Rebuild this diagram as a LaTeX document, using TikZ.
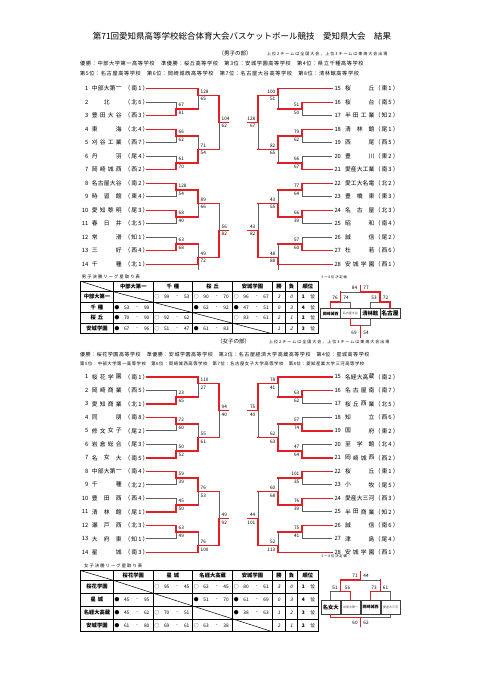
\documentclass[tikz,border=0pt]{standalone}
\usepackage{fontspec}
\setmainfont{Noto Sans CJK JP}
\newfontfamily\jpsl[FakeSlant=0.2]{Noto Sans CJK JP}
\newfontfamily\jpls[LetterSpace=25]{Noto Sans CJK JP}
\newfontfamily\jplsb[LetterSpace=18]{Noto Sans CJK JP}
\newfontfamily\jplsc[LetterSpace=11]{Noto Sans CJK JP}
\newfontfamily\jplsd[LetterSpace=12]{Noto Sans CJK JP}
\definecolor{bred}{RGB}{228,30,38}
\definecolor{bgray}{RGB}{95,95,95}
\pgfdeclarelayer{front}
\pgfsetlayers{main,front}
\tikzset{
 rl/.style={draw=bred,line width=1.4pt,line cap=rect},
 gl/.style={draw=bgray,line width=0.65pt},
 tn/.style={inner sep=0pt,font=\fontsize{5.8}{6}\selectfont},
 tp/.style={inner sep=0pt,anchor=west,font=\jplsb\fontsize{5.8}{6}\selectfont},
 sc/.style={inner sep=0pt,font=\fontsize{4.7}{5}\selectfont},
 cs/.style={inner sep=0pt,font=\fontsize{4.8}{5}\selectfont},
 csl/.style={inner sep=0pt,font=\jpsl\fontsize{4.8}{5}\selectfont},
 th/.style={inner sep=0pt,font=\bfseries\fontsize{5.3}{6}\selectfont},
 tin/.style={draw=black,line width=0.5pt},
 tout/.style={draw=black,line width=1pt},
 bx/.style={draw=black!75,line width=0.5pt,fill=white,inner sep=0pt,minimum width=19.8pt},
 hd/.style={inner sep=0pt,anchor=west},
}
\newcommand\bkSpread[4]{%
  \foreach \bkc [count=\bkk] in {#4} {\xdef\bkn{\bkk}}%
  \foreach \bkc [count=\bkk] in {#4} {%
    \ifnum\bkn=1 \pgfmathsetmacro\bkx{(#1+#2)/2}\else\pgfmathsetmacro\bkx{#1+(\bkk-1)*(#2-#1)/(\bkn-1)}\fi
    \node[tn] at (\bkx,#3) {\bkc};}}
\newcommand\bkTeamL[6]{%
  \node[tn,anchor=east] at (88.6,#2) {#1};
  \bkSpread{94.7}{118.7}{#2}{#3}
  \node[tp] at (124.4,#2) {#4};
  \ifnum#5=1 \begin{pgfonlayer}{front}\draw[rl] (146.3,#2) -- (#6,#2);\end{pgfonlayer}\else\draw[gl] (146.3,#2) -- (#6,#2);\fi}
\newcommand\bkTeamR[6]{%
  \node[tn,anchor=west] at (334.3,#2) {#1};
  \bkSpread{348}{371.5}{#2}{#3}
  \node[tp] at (374.6,#2) {#4};
  \ifnum#5=1 \begin{pgfonlayer}{front}\draw[rl] (332,#2) -- (#6,#2);\end{pgfonlayer}\else\draw[gl] (332,#2) -- (#6,#2);\fi}
\newcommand\bkMatch[8]{%
 \ifnum#5=1
  \draw[gl] (#1,#3) -- (#1,#4);
  \begin{pgfonlayer}{front}\draw[rl] (#1,#2) -- (#1,#3) -- (#6,#3);\end{pgfonlayer}%
 \else
  \draw[gl] (#1,#2) -- (#1,#3);
  \begin{pgfonlayer}{front}\draw[rl] (#1,#4) -- (#1,#3) -- (#6,#3);\end{pgfonlayer}%
 \fi
 \ifdim#6pt>#1pt
  \node[sc,anchor=west] at ({#1+2.5},{#3-3.8}) {#7};
  \node[sc,anchor=west] at ({#1+2.5},{#3+3.8}) {#8};
 \else
  \node[sc,anchor=east] at ({#1-2.5},{#3-3.8}) {#7};
  \node[sc,anchor=east] at ({#1-2.5},{#3+3.8}) {#8};
 \fi}
\newcommand\bkCell[5]{%
  \node[cs] at ({#1+3.6},#2) {#3};
  \node[cs] at ({#1+13.4},#2) {#4};
  \node[cs] at ({#1+24},#2) {-};
  \node[cs] at ({#1+33.4},#2) {#5};}
\newcommand\bkRank[4]{%
  \node[csl] at (279,#1) {#2};
  \node[csl] at (291.5,#1) {#3};
  \node[cs,font=\bfseries\fontsize{4.8}{5}\selectfont] at (303.3,#1) {#4};
  \node[cs] at (312.7,#1) {位};}
\newcommand\bkGrid[3]{% top, header bottom, row height
  \foreach \bkv in {113.3,153.3,192.7,232.7,272.3,285.7,297.3} {\draw[tin] (\bkv,#1) -- (\bkv,{#2+4*#3});}
  \foreach \bkr in {0,1,2,3} {\draw[tin] (80.7,{#2+\bkr*#3}) -- (318.3,{#2+\bkr*#3});}
  \draw[tin] (80.7,#1) -- (113.3,#2);
  \draw[tin] (113.3,#2) -- (272.3,{#2+4*#3});
  \draw[tout] (80.7,#1) rectangle (318.3,{#2+4*#3});}
\begin{document}
\begin{tikzpicture}[x=1pt,y=-1pt]
\useasboundingbox (0,0) rectangle (481,680);
\fill[white] (0,0) rectangle (481,680);

% ---------- headers
\node[inner sep=0pt,font=\fontsize{8.5}{9}\selectfont] (title) at (242,36) {第71回愛知県高等学校総合体育大会バスケットボール競技　愛知県大会　結果};
\node[inner sep=0pt,font=\fontsize{5.5}{6}\selectfont] (boyshead) at (235,53) {（男子の部）};
\node[hd,font=\jpls\fontsize{4}{5}\selectfont] (boysnote) at (267,54) {上位2チームは全国大会，上位3チームは東海大会出場};
\node[hd,font=\jplsc\fontsize{5.2}{6}\selectfont] (boysr1) at (80,64) {優勝：中部大学第一高等学校　準優勝：桜丘高等学校　第3位：安城学園高等学校　第4位：県立千種高等学校};
\node[hd,font=\jplsc\fontsize{5.2}{6}\selectfont] (boysr2) at (80,73.3) {第5位：名古屋高等学校　第6位：岡崎城西高等学校　第7位：名古屋大谷高等学校　第8位：清林館高等学校};

\node[inner sep=0pt,font=\fontsize{5.5}{6}\selectfont] (girlshead) at (233.5,341.7) {（女子の部）};
\node[hd,font=\jpls\fontsize{4}{5}\selectfont] (girlsnote) at (269,342.5) {上位2チームは全国大会，上位3チームは東海大会出場};
\node[hd,font=\jplsc\fontsize{5}{6}\selectfont] (girlsr1) at (80,355) {優勝：桜花学園高等学校　準優勝：安城学園高等学校　第3位：名古屋経済大学高蔵高等学校　第4位：星城高等学校};
\node[hd,font=\jplsd\fontsize{4.35}{5}\selectfont] (girlsr2) at (80,364.3) {第5位：中部大学第一高等学校　第6位：岡崎城西高等学校　第7位：名古屋女子大学高等学校　第8位：愛知産業大学三河高等学校};

% ---------- boys bracket, left top
\bkTeamL{1}{88.7}{中,部,大,第,一}{（南1）}{1}{198}
\bkTeamL{2}{102.2}{北}{（北6）}{0}{176}
\bkTeamL{3}{115.7}{豊,田,大,谷}{（西3）}{1}{176}
\bkTeamL{4}{129.2}{東,海}{（北4）}{1}{176}
\bkTeamL{5}{142.7}{刈,谷,工,業}{（西7）}{0}{176}
\bkTeamL{6}{156.2}{丹,羽}{（尾4）}{0}{176}
\bkTeamL{7}{169.7}{岡,崎,城,西}{（西2）}{1}{176}
\bkMatch{176}{102.2}{108.95}{115.7}{2}{198}{67}{81}
\bkMatch{176}{129.2}{135.95}{142.7}{1}{198}{66}{62}
\bkMatch{176}{156.2}{162.95}{169.7}{2}{198}{61}{70}
\bkMatch{198}{88.7}{95.45}{108.95}{1}{219}{128}{65}
\bkMatch{198}{135.95}{149.45}{162.95}{2}{219}{71}{54}
\bkMatch{219}{95.45}{122.45}{149.45}{1}{228}{104}{62}
% left bottom
\bkTeamL{8}{183.2}{名,古,屋,大,谷}{（南2）}{1}{176}
\bkTeamL{9}{196.7}{時,習,館}{（東4）}{0}{176}
\bkTeamL{10}{210.2}{愛,知,黎,明}{（尾3）}{1}{176}
\bkTeamL{11}{223.7}{春,日,井}{（北5）}{0}{176}
\bkTeamL{12}{237.2}{常,滑}{（知1）}{0}{176}
\bkTeamL{13}{250.7}{三,好}{（西4）}{1}{176}
\bkTeamL{14}{264.2}{千,種}{（北1）}{1}{198}
\bkMatch{176}{183.2}{189.95}{196.7}{1}{198}{128}{54}
\bkMatch{176}{210.2}{216.95}{223.7}{1}{198}{68}{40}
\bkMatch{176}{237.2}{243.95}{250.7}{2}{198}{63}{68}
\bkMatch{198}{189.95}{203.45}{216.95}{1}{219}{89}{66}
\bkMatch{198}{243.95}{257.45}{264.2}{2}{219}{49}{72}
\bkMatch{219}{203.45}{230.45}{257.45}{2}{228}{56}{82}
\draw[gl] (198,264.2) -- (198,269.5);
% right top
\bkTeamR{15}{88.7}{桜,丘}{（東1）}{1}{278}
\bkTeamR{16}{102.2}{桜,台}{（南5）}{1}{302}
\bkTeamR{17}{115.7}{半,田,工,業}{（知2）}{0}{302}
\bkTeamR{18}{129.2}{清,林,館}{（尾1）}{1}{302}
\bkTeamR{19}{142.7}{西,尾}{（西5）}{0}{302}
\bkTeamR{20}{156.2}{豊,川}{（東2）}{0}{302}
\bkTeamR{21}{169.7}{愛,産,大,工,業}{（南3）}{1}{302}
\bkMatch{302}{102.2}{108.95}{115.7}{1}{278}{51}{50}
\bkMatch{302}{129.2}{135.95}{142.7}{1}{278}{79}{62}
\bkMatch{302}{156.2}{162.95}{169.7}{2}{278}{66}{67}
\bkMatch{278}{88.7}{95.45}{108.95}{1}{258}{100}{51}
\bkMatch{278}{135.95}{149.45}{162.95}{1}{258}{82}{65}
\bkMatch{258}{95.45}{122.45}{149.45}{1}{248}{128}{67}
% right bottom
\bkTeamR{22}{183.2}{愛,工,大,名,電}{（北2）}{1}{302}
\bkTeamR{23}{196.7}{豊,橋,東}{（東3）}{0}{302}
\bkTeamR{24}{210.2}{名,古,屋}{（北3）}{1}{302}
\bkTeamR{25}{223.7}{昭,和}{（南4）}{0}{302}
\bkTeamR{26}{237.2}{誠,信}{（尾2）}{0}{302}
\bkTeamR{27}{250.7}{杜,若}{（西6）}{1}{302}
\bkTeamR{28}{264.2}{安,城,学,園}{（西1）}{1}{278}
\bkMatch{302}{183.2}{189.95}{196.7}{1}{278}{77}{64}
\bkMatch{302}{210.2}{216.95}{223.7}{1}{278}{66}{39}
\bkMatch{302}{237.2}{243.95}{250.7}{2}{278}{57}{60}
\bkMatch{278}{189.95}{203.45}{216.95}{2}{258}{43}{55}
\bkMatch{278}{243.95}{257.45}{264.2}{2}{258}{48}{88}
\bkMatch{258}{203.45}{230.45}{257.45}{2}{248}{43}{82}
\draw[gl] (278,264.2) -- (278,269.5);

% ---------- girls bracket, left top
\bkTeamL{1}{376.8}{桜,花,学,園}{（南1）}{1}{198}
\bkTeamL{2}{390.3}{岡,崎,商,業}{（西5）}{0}{176}
\bkTeamL{3}{403.8}{愛,知,商,業}{（北1）}{1}{176}
\bkTeamL{4}{417.3}{同,朋}{（南8）}{1}{176}
\bkTeamL{5}{430.8}{修,文,女,子}{（尾2）}{0}{176}
\bkTeamL{6}{444.3}{岩,倉,総,合}{（尾3）}{0}{176}
\bkTeamL{7}{457.8}{名,女,大}{（南5）}{1}{176}
\bkMatch{176}{390.3}{397.05}{403.8}{2}{198}{23}{65}
\bkMatch{176}{417.3}{424.05}{430.8}{1}{198}{72}{60}
\bkMatch{176}{444.3}{451.05}{457.8}{2}{198}{50}{52}
\bkMatch{198}{376.8}{383.55}{397.05}{1}{219}{110}{27}
\bkMatch{198}{424.05}{437.55}{451.05}{2}{219}{55}{61}
\bkMatch{219}{383.55}{410.55}{437.55}{1}{228}{94}{40}
% left bottom
\bkTeamL{8}{471.3}{中,部,大,第,一}{（南4）}{1}{176}
\bkTeamL{9}{484.8}{千,種}{（北2）}{0}{176}
\bkTeamL{10}{498.3}{豊,田,西}{（西4）}{0}{176}
\bkTeamL{11}{511.8}{清,林,館}{（尾1）}{1}{176}
\bkTeamL{12}{525.3}{瀬,戸,西}{（北3）}{1}{176}
\bkTeamL{13}{538.8}{大,府,東}{（知1）}{0}{176}
\bkTeamL{14}{552.3}{星,城}{（南3）}{1}{198}
\bkMatch{176}{471.3}{478.05}{484.8}{1}{198}{59}{39}
\bkMatch{176}{498.3}{505.05}{511.8}{2}{198}{45}{50}
\bkMatch{176}{525.3}{532.05}{538.8}{1}{198}{63}{49}
\bkMatch{198}{478.05}{491.55}{505.05}{1}{219}{76}{53}
\bkMatch{198}{532.05}{545.55}{552.3}{2}{219}{76}{100}
\bkMatch{219}{491.55}{518.55}{545.55}{2}{228}{49}{92}
% right top
\bkTeamR{15}{376.8}{名,経,大,高,蔵}{（南2）}{1}{278}
\bkTeamR{16}{390.3}{名,古,屋,南}{（南7）}{1}{302}
\bkTeamR{17}{403.8}{桜,丘,西,業}{（北5）}{0}{302}
\bkTeamR{18}{417.3}{知,立}{（西6）}{0}{302}
\bkTeamR{19}{430.8}{国,府}{（東2）}{1}{302}
\bkTeamR{20}{444.3}{至,学,館}{（北4）}{0}{302}
\bkTeamR{21}{457.8}{岡,崎,城,西}{（西2）}{1}{302}
\bkMatch{302}{390.3}{397.05}{403.8}{1}{278}{63}{62}
\bkMatch{302}{417.3}{424.05}{430.8}{2}{278}{57}{74}
\bkMatch{302}{444.3}{451.05}{457.8}{2}{278}{47}{64}
\bkMatch{278}{376.8}{383.55}{397.05}{1}{258}{78}{41}
\bkMatch{278}{424.05}{437.55}{451.05}{2}{258}{62}{63}
\bkMatch{258}{383.55}{410.55}{437.55}{1}{248}{75}{40}
% right bottom
\bkTeamR{22}{471.3}{桜,丘}{（東1）}{1}{302}
\bkTeamR{23}{484.8}{小,牧}{（尾5）}{0}{302}
\bkTeamR{24}{498.3}{愛,産,大,三,河}{（西3）}{1}{302}
\bkTeamR{25}{511.8}{半,田,商,業}{（知2）}{0}{302}
\bkTeamR{26}{525.3}{誠,信}{（南6）}{1}{302}
\bkTeamR{27}{538.8}{津,島}{（尾4）}{0}{302}
\bkTeamR{28}{552.3}{安,城,学,園}{（西1）}{1}{278}
\bkMatch{302}{471.3}{478.05}{484.8}{1}{278}{101}{35}
\bkMatch{302}{498.3}{505.05}{511.8}{1}{278}{76}{39}
\bkMatch{302}{525.3}{532.05}{538.8}{1}{278}{75}{41}
\bkMatch{278}{478.05}{491.55}{505.05}{2}{258}{60}{68}
\bkMatch{278}{532.05}{545.55}{552.3}{2}{258}{52}{113}
\bkMatch{258}{491.55}{518.55}{545.55}{2}{248}{44}{101}

% ---------- boys league table
\node[hd,font=\jpls\fontsize{4.3}{5}\selectfont] (boystt) at (81.7,277) {男子決勝リーグ星取り表};
\bkGrid{281.3}{291.7}{10.5}
\node[th] (bh1) at (133.3,286.5) {中部大第一};
\node[th] (bh2) at (173,286.5) {千\hspace{2pt}種};
\node[th] (bh3) at (212.7,286.5) {桜\hspace{2pt}丘};
\node[th] (bh4) at (252.5,286.5) {安城学園};
\node[th] (bh5) at (279,286.5) {勝};
\node[th] (bh6) at (291.5,286.5) {負};
\node[th] (bh7) at (307.8,286.5) {順位};
\node[th] (br1) at (97,296.95) {中部大第一};
\node[th] (br2) at (97,307.45) {千\hspace{2pt}種};
\node[th] (br3) at (97,317.95) {桜\hspace{2pt}丘};
\node[th] (br4) at (97,328.45) {安城学園};
\bkCell{153.3}{296.95}{○}{99}{53}
\bkCell{192.7}{296.95}{○}{90}{70}
\bkCell{232.7}{296.95}{○}{96}{67}
\bkRank{296.95}{3}{0}{1}
\bkCell{113.3}{307.45}{●}{53}{99}
\bkCell{192.7}{307.45}{●}{62}{92}
\bkCell{232.7}{307.45}{●}{47}{51}
\bkRank{307.45}{0}{3}{4}
\bkCell{113.3}{317.95}{●}{70}{90}
\bkCell{153.3}{317.95}{○}{92}{62}
\bkCell{232.7}{317.95}{○}{83}{61}
\bkRank{317.95}{2}{1}{2}
\bkCell{113.3}{328.45}{●}{67}{96}
\bkCell{153.3}{328.45}{○}{51}{47}
\bkCell{192.7}{328.45}{●}{61}{83}
\bkRank{328.45}{1}{2}{3}

% ---------- boys 5-8
\node[hd,font=\jpls\fontsize{3.3}{4}\selectfont] (boys58) at (321.5,277) {5～8位決定戦};
\node[bx,minimum height=10pt,font=\bfseries\fontsize{3.9}{4}\selectfont] (b1) at (330.6,313.7) {岡崎城西};
\node[bx,minimum height=10pt,font=\fontsize{3}{3}\selectfont,text=black!70] (b2) at (350.4,313.7) {名古屋大谷};
\node[bx,minimum height=10pt,font=\bfseries\fontsize{5.3}{6}\selectfont] (b3) at (370.2,313.7) {清林館};
\node[bx,minimum height=10pt,font=\bfseries\fontsize{5.8}{6}\selectfont] (b4) at (390,313.7) {名古屋};
\coordinate (bgA) at (340.5,302);
\coordinate (bgB) at (380.1,302);
\coordinate (bgT) at (360.3,292);
\coordinate (bgTe) at (360.3,285.3);
\coordinate (bgBot) at (360.3,325.3);
\coordinate (bgBe) at (360.3,337);
\draw[gl] (b2.north) |- (bgA);
\draw[gl] (b3.north) |- (bgB);
\draw[gl] (bgA |- bgT) -- (bgT);
\draw[gl] (b3.south) |- (bgBot);
\begin{pgfonlayer}{front}
\draw[rl] (b1.north) |- (bgA) -- (bgA |- bgT);
\draw[rl] (b4.north) |- (bgB) -- (bgB |- bgT) -- (bgT) -- (bgTe);
\draw[rl] (b2.south) |- (bgBot) -- (bgBe);
\end{pgfonlayer}
\node[sc] (bs1) at (335,298) {76};
\node[sc] (bs2) at (346,298) {74};
\node[sc] (bs3) at (374,298) {53};
\node[sc] (bs4) at (385.5,298) {72};
\node[sc] (bs5) at (354.5,287.5) {84};
\node[sc] (bs6) at (366,287.5) {77};
\node[sc] (bs7) at (354,333) {69};
\node[sc] (bs8) at (366,333) {54};

% ---------- girls league table
\node[hd,font=\jpls\fontsize{4.3}{5}\selectfont] (girlstt) at (84,566.3) {女子決勝リーグ星取り表};
\bkGrid{570.6}{580.3}{12.85}
\node[th] (gh1) at (133.3,575.5) {桜花学園};
\node[th] (gh2) at (173,575.5) {星\hspace{2pt}城};
\node[th] (gh3) at (212.7,575.5) {名経大高蔵};
\node[th] (gh4) at (252.5,575.5) {安城学園};
\node[th] (gh5) at (279,575.5) {勝};
\node[th] (gh6) at (291.5,575.5) {負};
\node[th] (gh7) at (307.8,575.5) {順位};
\node[th] (gr1) at (97,586.7) {桜花学園};
\node[th] (gr2) at (97,599.6) {星\hspace{2pt}城};
\node[th] (gr3) at (97,612.4) {名経大高蔵};
\node[th] (gr4) at (97,625.3) {安城学園};
\bkCell{153.3}{586.7}{○}{95}{45}
\bkCell{192.7}{586.7}{○}{62}{45}
\bkCell{232.7}{586.7}{○}{80}{61}
\bkRank{586.7}{3}{0}{1}
\bkCell{113.3}{599.6}{●}{45}{95}
\bkCell{192.7}{599.6}{●}{51}{70}
\bkCell{232.7}{599.6}{●}{61}{69}
\bkRank{599.6}{0}{3}{4}
\bkCell{113.3}{612.4}{●}{45}{62}
\bkCell{153.3}{612.4}{○}{70}{51}
\bkCell{232.7}{612.4}{●}{38}{63}
\bkRank{612.4}{1}{2}{3}
\bkCell{113.3}{625.3}{●}{61}{80}
\bkCell{153.3}{625.3}{○}{69}{61}
\bkCell{192.7}{625.3}{○}{63}{38}
\bkRank{625.3}{2}{1}{2}

% ---------- girls 5-8
\node[hd,font=\jpls\fontsize{3.3}{4}\selectfont] (girls58) at (321.5,556.3) {5～8位決定戦};
\node[bx,minimum height=14.3pt,font=\bfseries\fontsize{5.3}{6}\selectfont] (g1) at (330.7,607.15) {名女大};
\node[bx,minimum height=14.3pt,font=\fontsize{3}{3}\selectfont,text=black!70] (g2) at (350.7,607.15) {中部大第一};
\node[bx,minimum height=14.3pt,font=\bfseries\fontsize{4}{4}\selectfont] (g3) at (370.7,607.15) {岡崎城西};
\node[bx,minimum height=14.3pt,font=\fontsize{3}{3}\selectfont,text=black!70] (g4) at (390.7,607.15) {愛産大三河};
\coordinate (ggA) at (340.7,591.7);
\coordinate (ggB) at (380.7,591.7);
\coordinate (ggT) at (360.7,580);
\coordinate (ggTe) at (360.7,572);
\coordinate (ggBot) at (360.7,617.7);
\coordinate (ggBe) at (360.7,626);
\draw[gl] (g1.north) |- (ggA);
\draw[gl] (g4.north) |- (ggB);
\draw[gl] (ggB |- ggT) -- (ggT);
\draw[gl] (g4.south) |- (ggBot);
\begin{pgfonlayer}{front}
\draw[rl] (g2.north) |- (ggA) -- (ggA |- ggT) -- (ggT) -- (ggTe);
\draw[rl] (g3.north) |- (ggB) -- (ggB |- ggT);
\draw[rl] (g1.south) |- (ggBot) -- (ggBe);
\end{pgfonlayer}
\node[sc] (gs1) at (355,576) {71};
\node[sc] (gs2) at (366,576) {44};
\node[sc] (gs3) at (335,587.7) {51};
\node[sc] (gs4) at (347.5,587.7) {56};
\node[sc] (gs5) at (374,587.7) {73};
\node[sc] (gs6) at (385.5,587.7) {61};
\node[sc] (gs7) at (355,622.7) {60};
\node[sc] (gs8) at (366,622.7) {62};
\end{tikzpicture}
\end{document}
